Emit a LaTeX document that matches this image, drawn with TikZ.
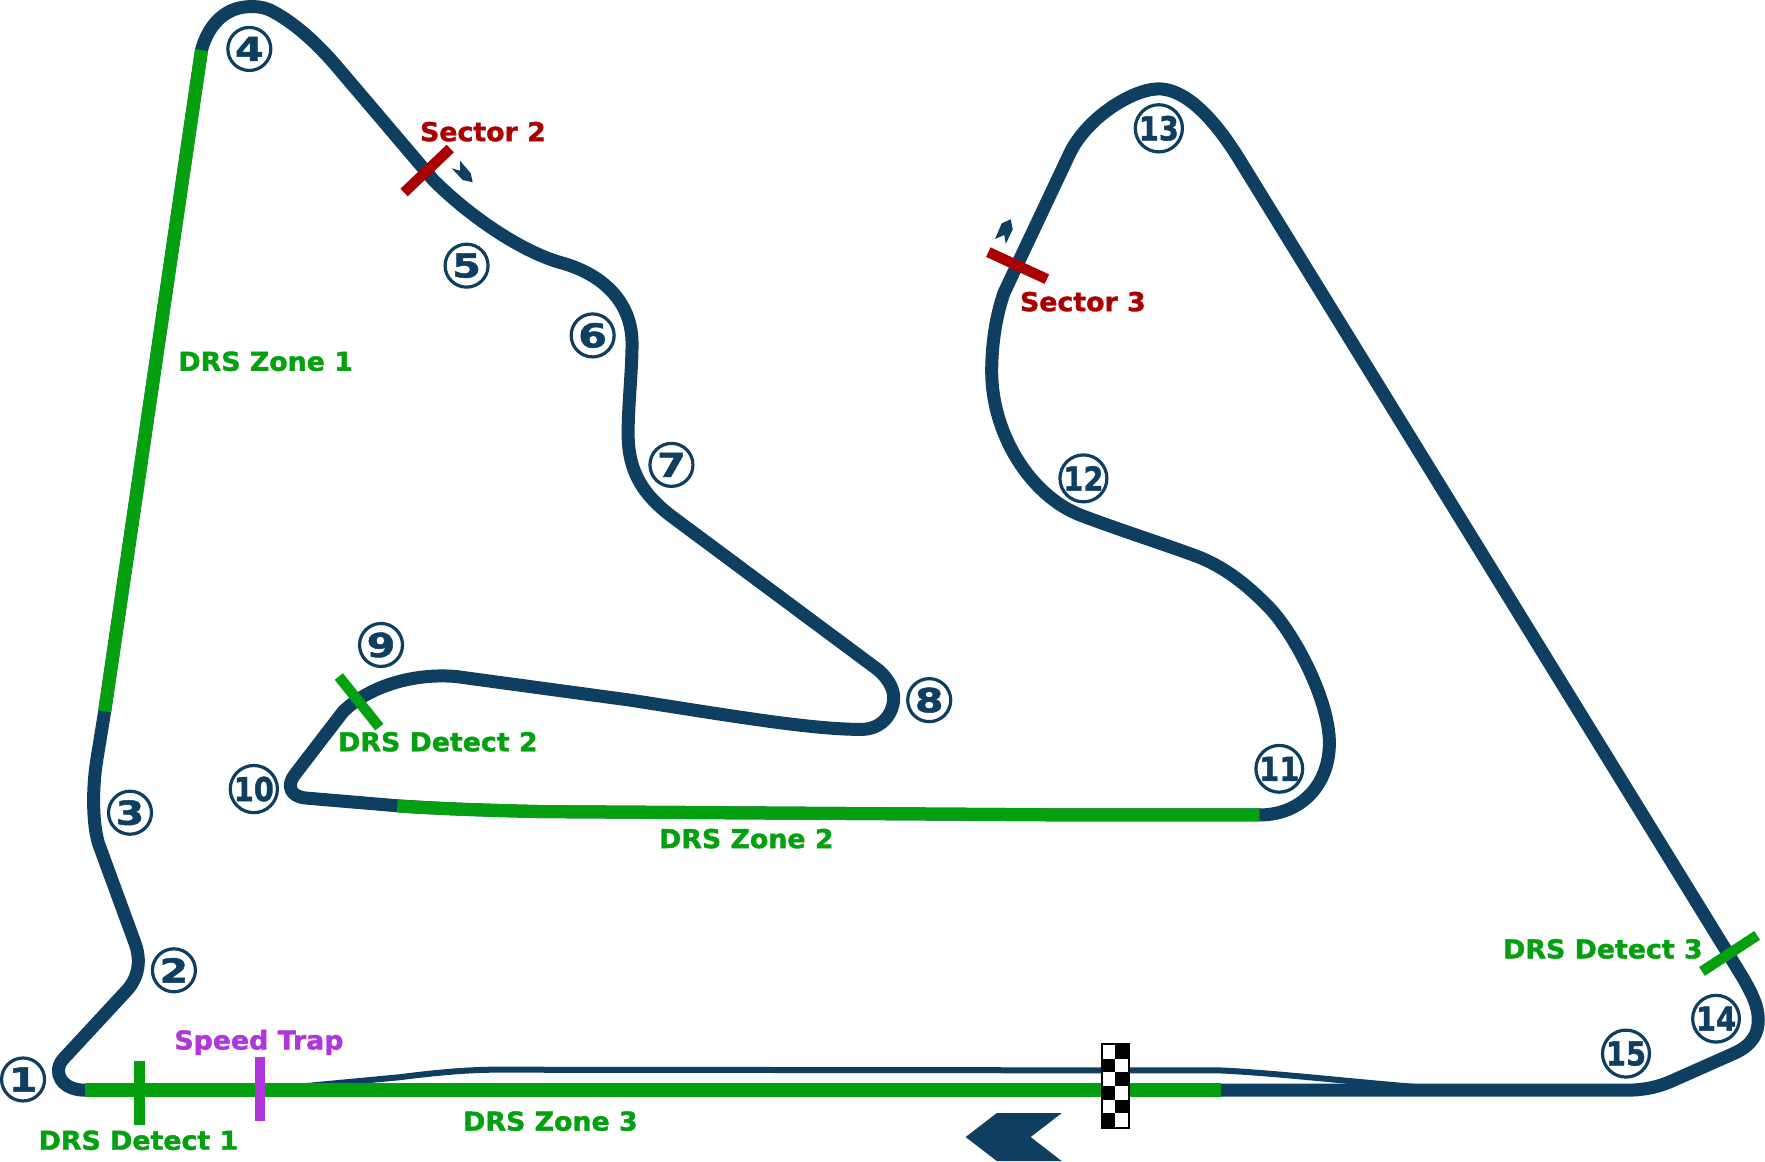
\documentclass[tikz,border=0pt]{standalone}
\usepackage{fontspec}
\setmainfont{DejaVu Sans}
\newfontfamily\labelfont{DejaVu Sans Bold}[FakeStretch=1.03,FakeBold=1.5]
\newfontfamily\turnfont{DejaVu Sans Bold}[FakeStretch=1.25,FakeBold=1.5]
\definecolor{trackblue}{HTML}{0E3E60}
\definecolor{drsgreen}{HTML}{04A00F}
\definecolor{sectorred}{HTML}{AA0000}
\definecolor{trappurple}{HTML}{B036DC}
\begin{document}
\begin{tikzpicture}[x=1.1256pt,y=-1.1256pt,
    fullpx/.style={x=1pt,y=-1pt},
    track/.style={trackblue,line width=13pt,line join=round},
    turn/.style={circle,draw=trackblue,line width=3.2pt,fill=white,text=trackblue,minimum size=43pt,inner sep=0pt,font=\fontsize{33}{33}\turnfont},
    zonelabel/.style={text=drsgreen,inner sep=0pt,font=\fontsize{26}{26}\labelfont},
    sectorlabel/.style={text=sectorred,inner sep=0pt,font=\fontsize{26}{26}\labelfont},
    traplabel/.style={text=trappurple,inner sep=0pt,font=\fontsize{26}{26}\labelfont},
    bar/.style={line width=10.5pt}]
    \useasboundingbox (0,0) rectangle (1568,1032);
    % pit lane
    \draw[trackblue,line width=6pt] (270,965) -- (355,957) .. controls (390,952.5) and (420,950) .. (445,950.3) -- (1085,951) .. controls (1130,953) and (1200,961) .. (1262,966) -- (1300,968);
    % circuit
    \draw[track] (75.5,968.5) -- (1445,968.5) .. controls (1462,968.5) and (1475,965) .. (1486,960) -- (1540,936)
      .. controls (1558,928) and (1562,917) .. (1562,906) .. controls (1562,893) and (1556,882) .. (1548,868) -- (1100,140)
      .. controls (1075,100) and (1050,78) .. (1028,79) .. controls (1005,80) and (965,105) .. (950,137)
      -- (892,260) .. controls (885,280) and (881,305) .. (881,330)
      .. controls (881,385) and (915,440) .. (959.5,457.5) .. controls (995,471) and (1030,482) .. (1060,493)
      .. controls (1088,503) and (1108,520) .. (1126.8,539) .. controls (1150,563) and (1181,622) .. (1181,660)
      .. controls (1181,698) and (1155,724) .. (1119,724) -- (960,724) -- (480,721)
      .. controls (440,720) and (400,719) .. (355,716) -- (272,709)
      .. controls (258,708) and (254,698) .. (262,688) -- (305,632)
      .. controls (330,608) and (370,598) .. (405,601) -- (560,622)
      .. controls (650,636) and (720,648) .. (765,648) .. controls (785,648) and (794,632) .. (794,620)
      .. controls (794,610) and (787,601) .. (780,595) -- (597,459)
      .. controls (572,440) and (558,420) .. (558,385) .. controls (558,360) and (561.5,330) .. (561.5,305)
      .. controls (561.5,268) and (535,243) .. (497,233) .. controls (460,222) and (415,190) .. (385,160)
      -- (300,60) .. controls (283,40) and (262,20) .. (240,9) .. controls (233,6) and (227,5.5) .. (220,6)
      .. controls (200,7) and (185,22) .. (179,44.5)
      -- (93,632) -- (86,675) .. controls (82,700) and (82,730) .. (87.4,749) -- (120,838)
      .. controls (125,852) and (124,867) .. (113,879.5) -- (56,941) .. controls (46,953) and (55,968.5) .. (75.5,968.5);
    % drs zones
    \draw[drsgreen,line width=13pt] (179,44.5) -- (93,632);
    \draw[drsgreen,line width=13pt] (1119,724) -- (960,724) -- (480,721) .. controls (440,720) and (400,719) .. (353,716);
    \draw[drsgreen,line width=14pt] (75.5,968.5) -- (1085,968.5);
    % markers
    \draw[drsgreen,bar] (124,943) -- (124,999);
    \draw[trappurple,bar] (231,939) -- (231,996);
    \draw[drsgreen,bar] (301,601) -- (337,646);
    \draw[drsgreen,bar] (1512,863) -- (1561,831);
    \draw[sectorred,bar] (359,171) -- (400,132);
    \draw[sectorred,bar] (878,224) -- (930,248);
    % direction arrows
    \begin{scope}[fullpx]
      \fill[trackblue] (451.7,168.3) -- (460,170.7) -- (460,160.7) -- (470.7,173.3) -- (472.7,182.3) -- (462.7,180) -- cycle;
      \fill[trackblue] (995,239) -- (1001.7,223.3) -- (1010.7,219.3) -- (1012.7,229.3) -- (1005.7,244) -- (1004.3,235) -- cycle;
      \fill[trackblue] (965.6,1137) -- (996.8,1113) -- (1061.7,1113) -- (1030.6,1137) -- (1061.7,1161) -- (996.8,1161) -- cycle;
      % flag
      \fill[black] (1100.5,1043) rectangle (1130,1129);
      \foreach \row in {0,2,4}
        \fill[white] (1102.5,1045+13.67*\row) rectangle (1115,1058.67+13.67*\row);
      \foreach \row in {1,3,5}
        \fill[white] (1115,1045+13.67*\row) rectangle (1128,1058.67+13.67*\row);
    \end{scope}
    % corners
    \foreach \n/\x/\y in {1/20.5/959,2/154.5/862,3/115.5/722,4/221.5/43.5,5/414.5/236,6/526.5/298,7/596.5/413,8/825.5/622,9/338.5/573}
      \node[turn] (turn\n) at (\x,\y) {\n};
    \foreach \n/\x/\y in {10/225.5/701,11/1136.5/683,12/962.5/425,13/1029.5/114,14/1524.5/905,15/1444.5/936}
      \node[turn] (turn\n) at (\x,\y) {\scalebox{0.7}[1]{\n}};
    % labels
    \node[sectorlabel] (sectortwo) at (429,117) {Sector 2};
    \node[sectorlabel] (sectorthree) at (962,268) {Sector 3};
    \node[zonelabel] (zoneone) at (236,321) {DRS Zone 1};
    \node[zonelabel] (zonetwo) at (663,745) {DRS Zone 2};
    \node[zonelabel] (zonethree) at (489,996) {DRS Zone 3};
    \node[zonelabel] (detectone) at (123,1013) {DRS Detect 1};
    \node[zonelabel] (detecttwo) at (389,659) {DRS Detect 2};
    \node[zonelabel] (detectthree) at (1424,843) {DRS Detect 3};
    \node[traplabel] (speedtrap) at (230,926) {Speed Trap};
  \end{tikzpicture}
\end{document}
